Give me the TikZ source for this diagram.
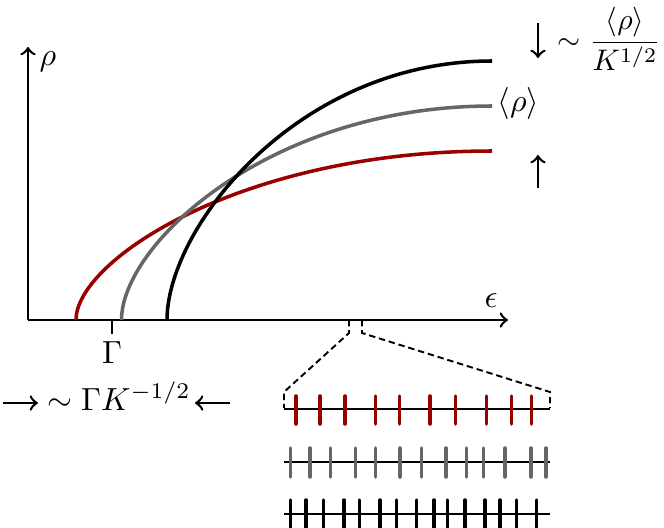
\documentclass[tikz,border=0pt]{standalone}
\definecolor{dred}{HTML}{990000}
\definecolor{mgray}{HTML}{666666}
\begin{document}
\begin{tikzpicture}[x=0.3125pt,y=-0.3125pt,
  axisline/.style={line width=0.8pt,->},
  curve/.style={line width=1.1pt},
  lab/.style={inner sep=0pt},
  ann/.style={line width=0.8pt,->},
  zoomline/.style={line width=0.6pt,dash pattern=on 2pt off 1.2pt},
  rowline/.style={line width=0.7pt},
  tk/.style={line width=1.1pt,line cap=round}]
\useasboundingbox (0,0) rectangle (664,527);
% axes
\coordinate (O) at (28,320);
\coordinate (ytop) at (28,47);
\coordinate (xend) at (508,320);
\draw[axisline] (O) -- (ytop);
\draw[axisline] (O) -- (xend);
\node[lab,anchor=base] (rho) at (48,66) {$\rho$};
\node[lab,anchor=base] (eps) at (491,307) {$\epsilon$};
% Gamma tick
\coordinate (g0) at (112,320);
\coordinate (g1) at (112,334);
\draw[line width=0.6pt] (g0) -- (g1);
\node[lab,anchor=base] (Gam) at (112,363) {$\Gamma$};
% curves
\coordinate (r0) at (76,320);
\coordinate (r1) at (492,151);
\coordinate (m0) at (121.5,320);
\coordinate (m1) at (492,106);
\coordinate (b0) at (167,320);
\coordinate (b1) at (492,61);
\draw[curve,dred] (r0) .. controls (76,260) and (242,151) .. (r1);
\draw[curve,mgray] (m0) .. controls (121.5,244) and (270,106) .. (m1);
\draw[curve,black] (b0) .. controls (167,228) and (297,61) .. (b1);
\node[lab,anchor=base west] (avg) at (497,112) {$\langle\rho\rangle$};
% right annotation
\coordinate (da0) at (538,23);
\coordinate (da1) at (538,58);
\coordinate (ua0) at (538,188);
\coordinate (ua1) at (538,155);
\draw[ann] (da0) -- (da1);
\draw[ann] (ua0) -- (ua1);
\node[lab,anchor=base west,scale=0.93] (frac) at (557,50) {$\displaystyle\sim\frac{\langle\rho\rangle}{K^{1/2}}$};
% bottom-left annotation
\coordinate (la0) at (3,403);
\coordinate (la1) at (38,403);
\coordinate (ra0) at (230,403);
\coordinate (ra1) at (195,403);
\draw[ann] (la0) -- (la1);
\draw[ann] (ra0) -- (ra1);
\node[lab,anchor=base] (width) at (119,410) {$\sim\Gamma K^{-1/2}$};
% zoom lines
\coordinate (z1) at (349,320);
\coordinate (z2) at (349,333);
\coordinate (z3) at (284,392);
\coordinate (z4) at (284,408);
\coordinate (w1) at (362,320);
\coordinate (w2) at (362,333);
\coordinate (w3) at (550,392);
\coordinate (w4) at (550,408);
\draw[zoomline] (z1) -- (z2) -- (z3) -- (z4);
\draw[zoomline] (w1) -- (w2) -- (w3) -- (w4);
% rows
\coordinate (row1a) at (284,409.3);
\coordinate (row1b) at (550,409.3);
\coordinate (row2a) at (284,462.3);
\coordinate (row2b) at (550,462.3);
\coordinate (row3a) at (284,514.3);
\coordinate (row3b) at (550,514.3);
\draw[rowline] (row1a) -- (row1b);
\draw[rowline] (row2a) -- (row2b);
\draw[rowline] (row3a) -- (row3b);
\foreach \x in {296,320,345,375.3,399.3,430,455.7,486.7,511.3,531.7}
  \draw[tk,dred] (\x,396) -- (\x,424);
\foreach \x in {290.7,310,330.7,355.7,375.3,400,421.7,446,466.7,483.3,505,531,546}
  \draw[tk,mgray] (\x,448) -- (\x,477);
\foreach \x in {290.7,306,323.3,344,359.3,380,396.7,416.7,434,447.3,465,485,500,516.7,536.7}
  \draw[tk,black] (\x,500) -- (\x,532);
\end{tikzpicture}
\end{document}
